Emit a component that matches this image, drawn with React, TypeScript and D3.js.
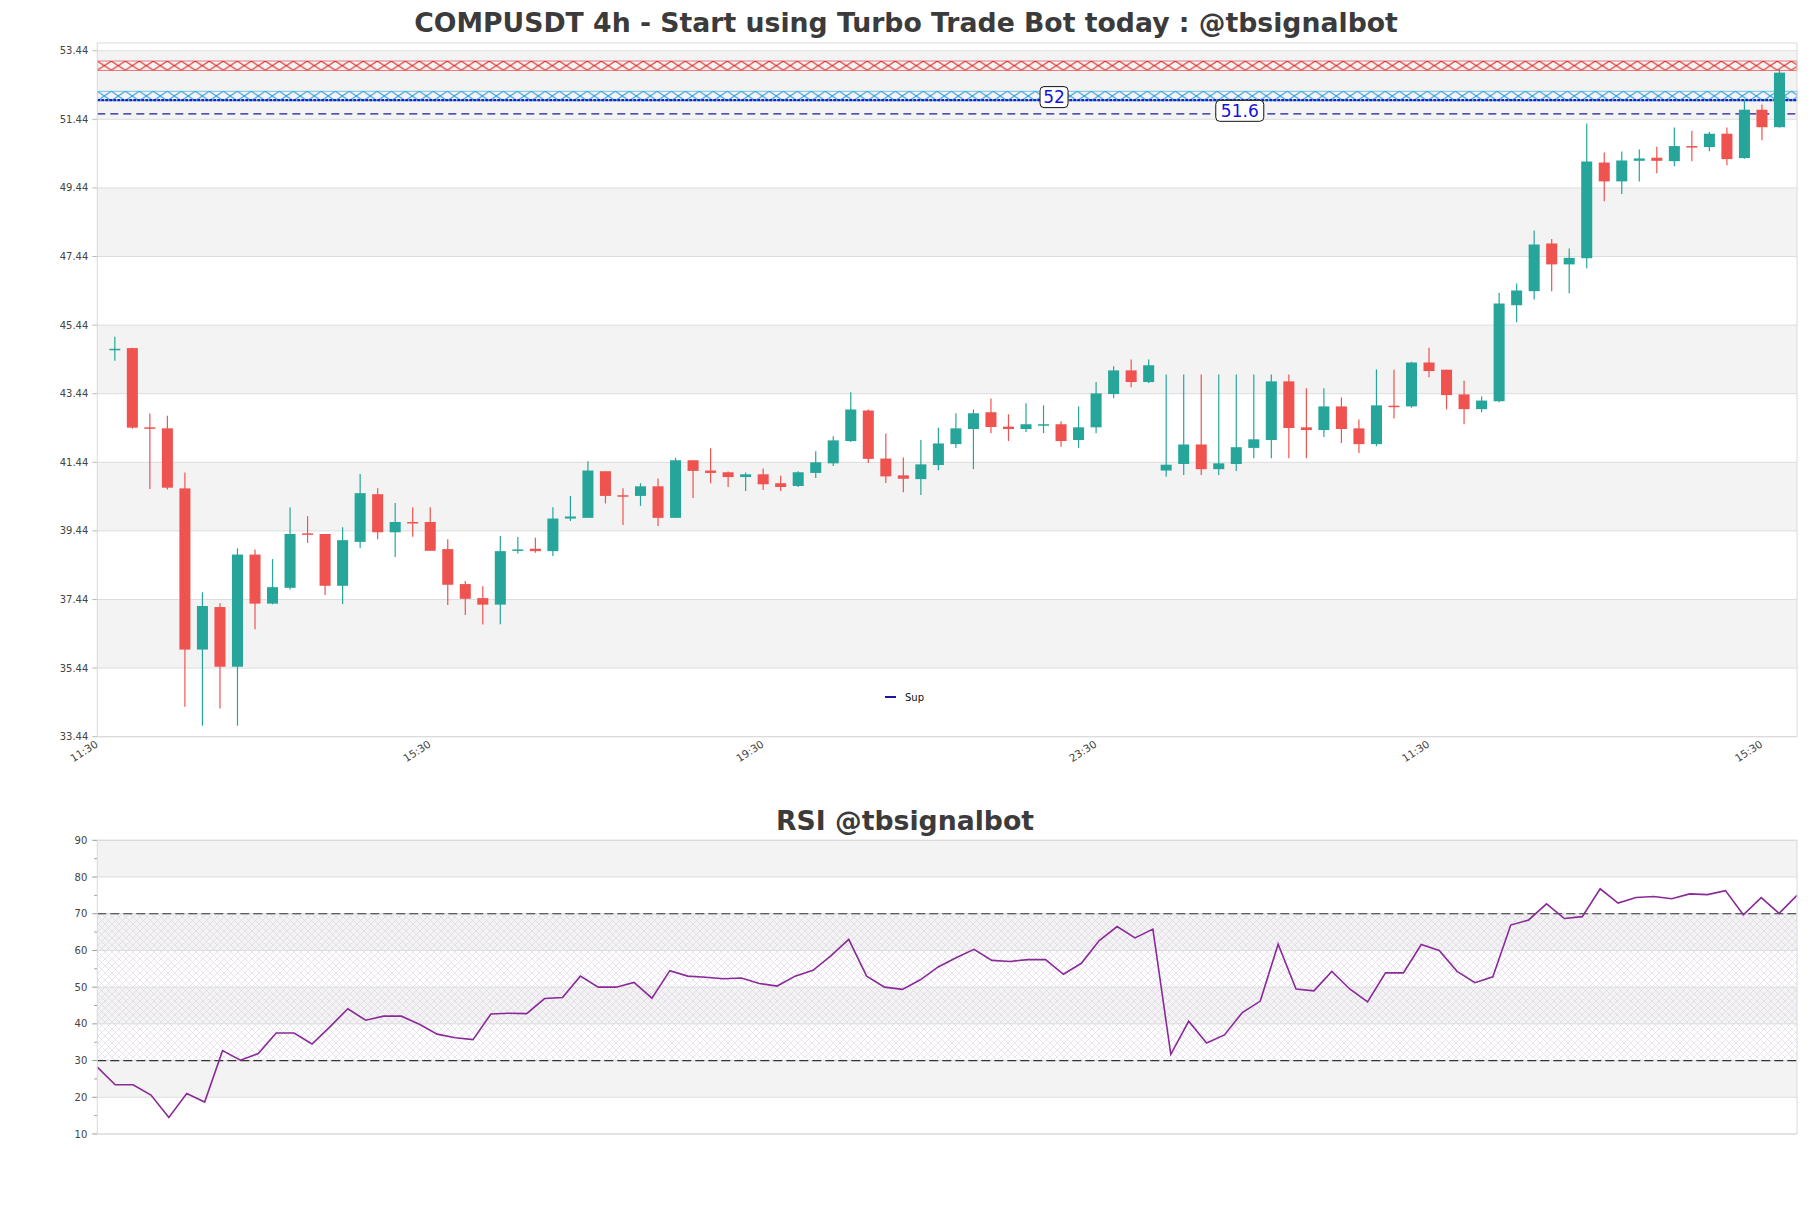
import React from "react";
import * as d3 from "d3";

// 4h candles
const opens = [
  44.73, 44.77, 42.46, 42.43, 40.68, 35.98, 37.22, 35.48, 38.75, 37.32, 37.78, 39.37,
  39.35, 37.84, 39.12, 40.51, 39.4, 39.7, 39.7, 38.91, 37.89, 37.48, 37.29, 38.86,
  38.92, 38.85, 39.8, 39.82, 41.18, 40.48, 40.46, 40.74, 39.82, 41.5, 41.2, 41.15,
  41.01, 41.09, 40.83, 40.75, 41.13, 41.41, 42.06, 42.95, 41.55, 41.06, 40.95, 41.36,
  41.97, 42.41, 42.9, 42.48, 42.41, 42.53, 42.55, 42.09, 42.46, 43.43, 44.12, 43.78,
  41.2, 41.39, 41.96, 41.24, 41.39, 41.86, 42.09, 43.8, 42.46, 42.38, 43.07, 42.43,
  41.97, 43.09, 43.07, 44.35, 44.14, 43.42, 42.99, 43.22, 46.02, 46.43, 47.82, 47.21,
  47.39, 50.18, 49.63, 50.23, 50.32, 50.22, 50.66, 50.63, 51.02, 50.31, 51.72, 51.21,
];
const highs = [
  45.1, 44.78, 42.86, 42.8, 41.14, 37.65, 37.33, 38.93, 38.9, 38.62, 40.12, 39.87,
  39.35, 39.55, 41.1, 40.68, 40.25, 40.13, 40.13, 39.2, 37.98, 37.83, 39.29, 39.26,
  39.24, 40.13, 40.46, 41.47, 41.18, 40.68, 40.83, 40.97, 41.57, 41.5, 41.85, 41.17,
  41.14, 41.26, 41.05, 41.18, 41.76, 42.2, 43.48, 42.98, 42.28, 41.58, 42.09, 42.45,
  42.87, 42.98, 43.3, 42.84, 43.16, 43.1, 42.64, 43.07, 43.78, 44.24, 44.44, 44.44,
  44.0, 44.0, 44.0, 44.0, 44.0, 44.0, 44.0, 44.0, 43.6, 43.6, 43.33, 42.69,
  44.15, 44.14, 44.37, 44.78, 44.14, 43.82, 43.36, 46.38, 46.65, 48.2, 47.95, 47.67,
  51.32, 50.47, 50.5, 50.56, 50.64, 51.2, 51.11, 51.08, 51.2, 52.01, 51.87, 52.89,
];
const lows = [
  44.4, 42.42, 40.66, 40.65, 34.31, 33.76, 34.26, 33.76, 36.57, 37.3, 37.73, 39.09,
  37.57, 37.31, 38.94, 39.2, 38.68, 39.27, 38.86, 37.28, 36.99, 36.71, 36.72, 38.78,
  38.8, 38.71, 39.73, 39.82, 40.24, 39.61, 40.17, 39.58, 39.82, 40.4, 40.83, 40.72,
  40.6, 40.63, 40.6, 40.72, 40.98, 41.33, 42.03, 41.42, 40.84, 40.57, 40.49, 41.21,
  41.86, 41.24, 42.29, 42.06, 42.32, 42.29, 41.89, 41.86, 42.29, 43.31, 43.63, 43.75,
  41.02, 41.07, 41.07, 41.07, 41.19, 41.56, 41.56, 41.56, 41.56, 42.18, 42.0, 41.71,
  41.91, 42.72, 43.03, 43.92, 42.98, 42.55, 42.9, 43.19, 45.52, 46.19, 46.43, 46.37,
  47.1, 49.05, 49.26, 49.63, 49.87, 50.07, 50.22, 50.51, 50.1, 50.29, 50.83, 51.2,
];
const closes = [
  44.75, 42.45, 42.43, 40.7, 35.98, 37.25, 35.48, 38.75, 37.32, 37.8, 39.35, 39.34,
  37.84, 39.17, 40.54, 39.4, 39.7, 39.68, 38.86, 37.87, 37.46, 37.29, 38.85, 38.9,
  38.85, 39.8, 39.86, 41.2, 40.46, 40.46, 40.74, 39.82, 41.5, 41.19, 41.13, 41.01,
  41.09, 40.8, 40.72, 41.15, 41.44, 42.08, 42.98, 41.54, 41.03, 40.96, 41.38, 41.99,
  42.43, 42.87, 42.47, 42.41, 42.55, 42.55, 42.06, 42.46, 43.45, 44.12, 43.78, 44.27,
  41.37, 41.96, 41.24, 41.41, 41.88, 42.11, 43.8, 42.44, 42.38, 43.07, 42.41, 41.97,
  43.1, 43.07, 44.35, 44.1, 43.4, 42.99, 43.24, 46.07, 46.45, 47.79, 47.21, 47.4,
  50.21, 49.63, 50.24, 50.3, 50.23, 50.66, 50.64, 51.02, 50.28, 51.72, 51.21, 52.8,
];

const rsiValues = [
  28.2, 23.4, 23.4, 20.6, 14.5, 21.0, 18.7, 32.7, 30.1, 31.9, 37.5, 37.5,
  34.5, 39.2, 44.1, 41.0, 42.1, 42.1, 39.9, 37.2, 36.2, 35.7, 42.7, 42.9,
  42.8, 46.9, 47.2, 53.0, 50.0, 50.0, 51.3, 47.0, 54.5, 53.0, 52.7, 52.3,
  52.5, 51.0, 50.3, 53.0, 54.6, 58.5, 63.0, 53.0, 50.0, 49.4, 52.0, 55.5,
  58.0, 60.3, 57.3, 57.0, 57.5, 57.5, 53.5, 56.5, 62.7, 66.5, 63.4, 65.8,
  31.7, 40.7, 34.8, 37.0, 43.1, 46.2, 61.7, 49.5, 49.0, 54.3, 49.5, 46.0,
  53.9, 53.9, 61.6, 60.0, 54.3, 51.2, 52.8, 66.9, 68.3, 72.7, 68.7, 69.2,
  76.8, 72.9, 74.4, 74.7, 74.1, 75.4, 75.2, 76.3, 69.7, 74.4, 70.1, 75.0,
];

const xTickIdx = [-1, 18, 37, 56, 75, 94];
const xTickLabels = ["11:30", "15:30", "19:30", "23:30", "11:30", "15:30"];
const priceTicks = [33.44, 35.44, 37.44, 39.44, 41.44, 43.44, 45.44, 47.44, 49.44, 51.44, 53.44];
const rsiTicks = [10, 20, 30, 40, 50, 60, 70, 80, 90];
const rsiMinor = [15, 25, 35, 45, 55, 65, 75, 85];

const resistanceBand = [52.87, 53.14];
const supportBand = [51.98, 52.26];
const supLevel = 52;
const pivotLevel = 51.6;
const levelLabels = [
  { text: "52", value: 52, at: 53.6 },
  { text: "51.6", value: 51.6, at: 64.2 },
];
const rsiLevels = [30, 70];

const UP = "#26a69a";
const DOWN = "#ef5350";
const FONT = "DejaVu Sans";

const App = () => {
  const width = 1811;
  const height = 1208;
  const left = 97.3;
  const right = 1797;
  const mTop = 43;
  const mBot = 736.7;
  const rTop = 840.3;
  const rBot = 1134;

  const x = d3.scaleLinear().domain([-1, closes.length]).range([left, right]);
  const y = d3.scaleLinear().domain([33.44, 53.665]).range([mBot, mTop]);
  const xr = d3.scaleLinear().domain([0, rsiValues.length - 1]).range([left, right]);
  const yr = d3.scaleLinear().domain([10, 90]).range([rBot, rTop]);
  const bw = (x(1) - x(0)) * 0.63;

  const rsiLine = d3
    .line<number>()
    .x((d, i) => xr(i))
    .y((d) => yr(d));

  const redTop = y(resistanceBand[1]);
  const redH = y(resistanceBand[0]) - redTop;
  const cyTop = y(supportBand[1]);
  const cyH = y(supportBand[0]) - cyTop;

  return (
    <svg
      width={width}
      height={height}
      style={{ position: "absolute", left: 0, top: 0, background: "#fff" }}
      fontFamily={FONT}
    >
      <defs>
        <pattern id="hRed" patternUnits="userSpaceOnUse" x={left} y={redTop} width={14} height={redH}>
          <path d={`M0,0L14,${redH}M0,${redH}L14,0`} stroke="#e02424" strokeWidth={1} />
        </pattern>
        <pattern id="hCyan" patternUnits="userSpaceOnUse" x={left} y={cyTop} width={14} height={cyH}>
          <path d={`M0,0L14,${cyH}M0,${cyH}L14,0`} stroke="#2a9fe0" strokeWidth={1} />
        </pattern>
        <pattern id="hRsi" patternUnits="userSpaceOnUse" width={7} height={7}>
          <path d="M0,0L7,7M0,7L7,0" stroke="#d3c4df" strokeWidth={0.6} />
        </pattern>
      </defs>

      <text x={906} y={32} textAnchor="middle" fontSize={26.7} fontWeight="bold" fill="#3b3b3b">
        COMPUSDT 4h - Start using Turbo Trade Bot today : @tbsignalbot
      </text>

      {/* price panel */}
      <rect x={left} y={mTop} width={right - left} height={mBot - mTop} fill="#fff" />
      {priceTicks.slice(0, -1).map((t, i) =>
        i % 2 === 1 ? (
          <rect key={"pb" + i} x={left} y={y(priceTicks[i + 1])} width={right - left} height={y(t) - y(priceTicks[i + 1])} fill="#f3f3f3" />
        ) : null
      )}
      {priceTicks.map((t) => (
        <g key={"pt" + t}>
          <line x1={left} x2={right} y1={y(t)} y2={y(t)} stroke="#dddddd" strokeWidth={1} />
          <line x1={left - 5} x2={left} y1={y(t)} y2={y(t)} stroke="#bbbbbb" strokeWidth={1} />
          <text x={left - 9} y={y(t) + 3.5} textAnchor="end" fontSize={10} fill="#444">
            {t.toFixed(2)}
          </text>
        </g>
      ))}

      <rect x={left} y={redTop} width={right - left} height={redH} fill="url(#hRed)" stroke="#e02424" strokeWidth={0.6} />
      <rect x={left} y={cyTop} width={right - left} height={cyH} fill="url(#hCyan)" stroke="#2a9fe0" strokeWidth={0.6} />
      <line x1={left} x2={right} y1={y(supLevel)} y2={y(supLevel)} stroke="#1420c8" strokeWidth={2.4} strokeDasharray="3 1" />
      <line x1={left} x2={right} y1={y(pivotLevel)} y2={y(pivotLevel)} stroke="#1c1c9c" strokeWidth={1.3} strokeDasharray="8 5" />

      {closes.map((c, i) => {
        const o = opens[i];
        const col = c >= o ? UP : DOWN;
        const top = y(Math.max(o, c));
        const bh = Math.max(1.5, y(Math.min(o, c)) - top);
        return (
          <g key={"c" + i}>
            <line x1={x(i)} x2={x(i)} y1={y(highs[i])} y2={y(lows[i])} stroke={col} strokeWidth={1.2} />
            <rect x={x(i) - bw / 2} y={top} width={bw} height={bh} fill={col} />
          </g>
        );
      })}

      {levelLabels.map((l) => {
        const w = l.text.length * 10 + 8;
        const cx = x(l.at);
        const cy = y(l.value) - 3;
        return (
          <g key={"ll" + l.text}>
            <rect x={cx - w / 2} y={cy - 10.5} width={w} height={21} rx={4} fill="#fff" stroke="#111" strokeWidth={1} />
            <text x={cx} y={cy + 6} textAnchor="middle" fontSize={17} fill="#1414d8">
              {l.text}
            </text>
          </g>
        );
      })}

      <rect x={left} y={mTop} width={right - left} height={mBot - mTop} fill="none" stroke="#d9d9d9" strokeWidth={1} />

      <line x1={885} x2={896} y1={697} y2={697} stroke="#1a14a8" strokeWidth={2} />
      <text x={905} y={700.5} fontSize={10} fill="#111">
        Sup
      </text>

      {xTickIdx.map((t, i) => (
        <text
          key={"xt" + i}
          transform={`translate(${x(t) - 2},${mBot + 4}) rotate(-33)`}
          textAnchor="end"
          fontSize={10.5}
          dy="0.6em"
          fill="#444"
        >
          {xTickLabels[i]}
        </text>
      ))}

      {/* RSI panel */}
      <text x={905} y={830} textAnchor="middle" fontSize={26.7} fontWeight="bold" fill="#3b3b3b">
        RSI @tbsignalbot
      </text>
      <rect x={left} y={rTop} width={right - left} height={rBot - rTop} fill="#fff" />
      {rsiTicks.slice(0, -1).map((t, i) =>
        i % 2 === 1 ? (
          <rect key={"rb" + i} x={left} y={yr(rsiTicks[i + 1])} width={right - left} height={yr(t) - yr(rsiTicks[i + 1])} fill="#f3f3f3" />
        ) : null
      )}
      <rect x={left} y={yr(70)} width={right - left} height={yr(30) - yr(70)} fill="url(#hRsi)" opacity={0.8} />
      {rsiTicks.map((t) => (
        <g key={"rt" + t}>
          <line x1={left} x2={right} y1={yr(t)} y2={yr(t)} stroke="#dddddd" strokeWidth={1} />
          <line x1={left - 5} x2={left} y1={yr(t)} y2={yr(t)} stroke="#999" strokeWidth={1} />
          <text x={left - 10} y={yr(t) + 3.5} textAnchor="end" fontSize={10} fill="#444">
            {t}
          </text>
        </g>
      ))}
      {rsiMinor.map((t) => (
        <line key={"rm" + t} x1={left - 3} x2={left} y1={yr(t)} y2={yr(t)} stroke="#999" strokeWidth={1} />
      ))}
      {rsiLevels.map((t) => (
        <line key={"rl" + t} x1={left} x2={right} y1={yr(t)} y2={yr(t)} stroke="#333" strokeWidth={1.2} strokeDasharray="9 4" />
      ))}
      <path d={rsiLine(rsiValues) || ""} fill="none" stroke="#8a2a98" strokeWidth={1.6} />
      <rect x={left} y={rTop} width={right - left} height={rBot - rTop} fill="none" stroke="#d9d9d9" strokeWidth={1} />
    </svg>
  );
};

export default App;
